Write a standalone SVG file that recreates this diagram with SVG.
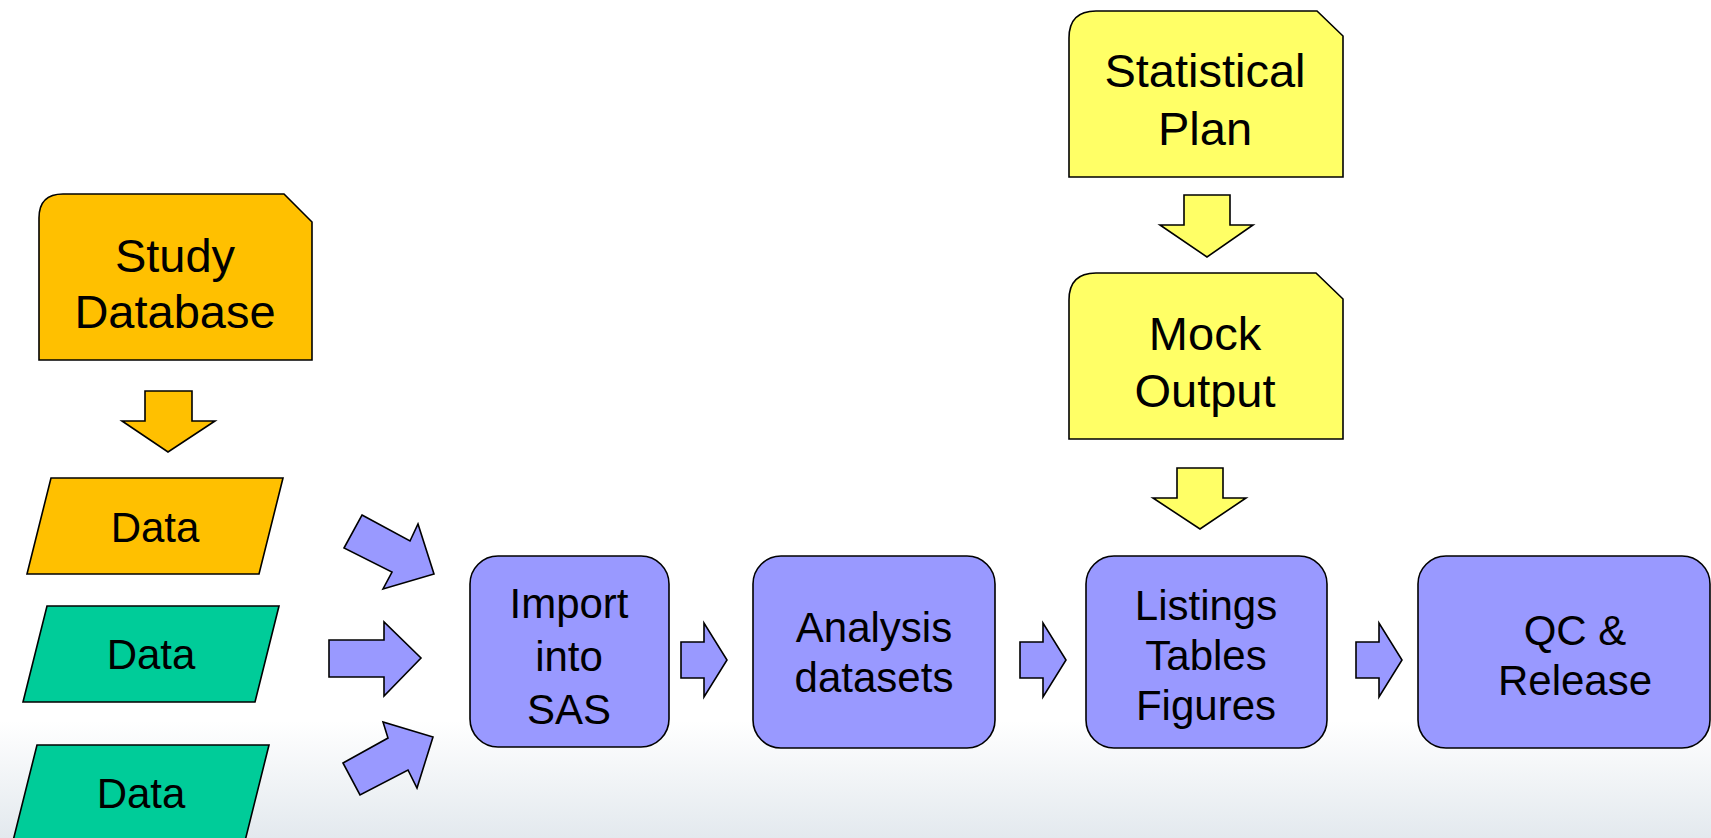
<svg xmlns="http://www.w3.org/2000/svg" width="1711" height="838" viewBox="0 0 1711 838">
  <defs>
    <linearGradient id="bg" x1="0" y1="0" x2="0" y2="838" gradientUnits="userSpaceOnUse">
      <stop offset="0" stop-color="#ffffff"/>
      <stop offset="0.86" stop-color="#ffffff"/>
      <stop offset="1" stop-color="#e3e9ee"/>
    </linearGradient>
    <style>
      .shape { stroke: #000; stroke-width: 1.6; stroke-linejoin: miter; }
      .orange { fill: #ffc000; }
      .green { fill: #00cc99; }
      .blue { fill: #9999ff; }
      .yellow { fill: #ffff66; }
      .lbl { font-family: "Liberation Sans", Arial, sans-serif; fill: #000; text-anchor: middle; }
      .big { font-size: 47px; }
      .mid { font-size: 42px; }
      .dat { font-size: 42px; }
    </style>
  </defs>

  <rect x="0" y="0" width="1711" height="838" fill="url(#bg)"/>

  <!-- Document-style sources -->
  <g id="study-database">
    <path class="shape orange" d="M39,360 L39,218 Q39,194 63,194 L284,194 L312,222 L312,360 Z"/>
    <text class="lbl big" x="175" y="272">Study</text>
    <text class="lbl big" x="175" y="328">Database</text>
  </g>

  <g id="statistical-plan">
    <path class="shape yellow" d="M1069,177 L1069,38 Q1069,11 1096,11 L1317,11 L1343,36 L1343,177 Z"/>
    <text class="lbl big" x="1205" y="87">Statistical</text>
    <text class="lbl big" x="1205" y="145">Plan</text>
  </g>

  <g id="mock-output">
    <path class="shape yellow" d="M1069,439 L1069,300 Q1069,273 1096,273 L1316,273 L1343,299 L1343,439 Z"/>
    <text class="lbl big" x="1205" y="350">Mock</text>
    <text class="lbl big" x="1205" y="407">Output</text>
  </g>

  <!-- Data inputs -->
  <g id="data-1">
    <polygon class="shape orange" points="51,478 283,478 259,574 27,574"/>
    <text class="lbl dat" x="155" y="542">Data</text>
  </g>
  <g id="data-2">
    <polygon class="shape green" points="47,606 279,606 255,702 23,702"/>
    <text class="lbl dat" x="151" y="669">Data</text>
  </g>
  <g id="data-3">
    <polygon class="shape green" points="37,745 269,745 245,841 13,841"/>
    <text class="lbl dat" x="141" y="808">Data</text>
  </g>

  <!-- Process steps -->
  <g id="import-into-sas">
    <rect class="shape blue" x="470" y="556" width="199" height="191" rx="28" ry="28"/>
    <text class="lbl mid" x="569" y="618">Import</text>
    <text class="lbl mid" x="569" y="671">into</text>
    <text class="lbl mid" x="569" y="724">SAS</text>
  </g>

  <g id="analysis-datasets">
    <rect class="shape blue" x="753" y="556" width="242" height="192" rx="28" ry="28"/>
    <text class="lbl mid" x="874" y="642">Analysis</text>
    <text class="lbl mid" x="874" y="692">datasets</text>
  </g>

  <g id="listings-tables-figures">
    <rect class="shape blue" x="1086" y="556" width="241" height="192" rx="28" ry="28"/>
    <text class="lbl mid" x="1206" y="620">Listings</text>
    <text class="lbl mid" x="1206" y="670">Tables</text>
    <text class="lbl mid" x="1206" y="720">Figures</text>
  </g>

  <g id="qc-release">
    <rect class="shape blue" x="1418" y="556" width="292" height="192" rx="28" ry="28"/>
    <text class="lbl mid" x="1575" y="645">QC &amp;</text>
    <text class="lbl mid" x="1575" y="695">Release</text>
  </g>

  <!-- Block arrows between steps -->
  <g id="connectors">
    <polygon class="shape orange" points="145,391 192,391 192,421 215,421 168,452 122,421 145,421"/>
    <polygon class="shape yellow" points="1184,195 1230,195 1230,225 1253,225 1207,257 1160,225 1184,225"/>
    <polygon class="shape yellow" points="1177,468 1223,468 1223,498 1246,498 1200,529 1153,498 1177,498"/>

    <polygon class="shape blue" points="362,515 410,541 418,524 434,574 383,589 392,572 344,548"/>
    <polygon class="shape blue" points="329,640 384,640 384,622 421,658 384,696 384,677 329,677"/>
    <polygon class="shape blue" points="343,763 388,738 383,722 433,737 417,788 408,770 360,795"/>

    <polygon class="shape blue" points="681,642 704,642 704,623 727,660 704,697 704,678 681,678"/>
    <polygon class="shape blue" points="1020,642 1043,642 1043,623 1066,660 1043,697 1043,678 1020,678"/>
    <polygon class="shape blue" points="1356,642 1379,642 1379,623 1402,660 1379,697 1379,678 1356,678"/>
  </g>
</svg>
